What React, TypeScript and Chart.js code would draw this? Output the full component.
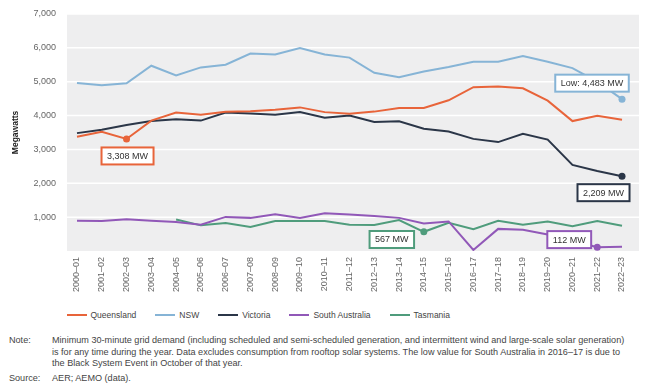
import React, { useEffect, useRef } from "react";
import { Chart, registerables } from "chart.js";

Chart.register(...registerables);

const categories = [
  "2000–01", "2001–02", "2002–03", "2003–04", "2004–05", "2005–06", "2006–07", "2007–08",
  "2008–09", "2009–10", "2010–11", "2011–12", "2012–13", "2013–14", "2014–15", "2015–16",
  "2016–17", "2017–18", "2018–19", "2019–20", "2020–21", "2021–22", "2022–23",
];

const queensland = [3370, 3520, 3308, 3850, 4090, 4020, 4110, 4125, 4170, 4240, 4100, 4050, 4115, 4220, 4220, 4450, 4835, 4860, 4805, 4440, 3835, 3990, 3875];
const nsw = [4960, 4890, 4950, 5470, 5180, 5420, 5500, 5830, 5800, 5990, 5800, 5710, 5260, 5130, 5300, 5430, 5590, 5590, 5755, 5590, 5400, 5000, 4483];
const victoria = [3480, 3580, 3720, 3835, 3890, 3850, 4090, 4060, 4020, 4100, 3935, 4000, 3810, 3830, 3610, 3530, 3310, 3215, 3460, 3290, 2540, 2360, 2209];
const southAustralia = [892, 883, 940, 892, 854, 777, 1007, 978, 1084, 978, 1113, 1074, 1036, 978, 815, 873, 30, 653, 624, 490, 310, 112, 125];
const tasmania = [null, null, null, null, 930, 757, 826, 710, 883, 883, 883, 777, 768, 912, 567, 835, 642, 892, 777, 873, 729, 883, 748];

const yTicks = [0, 1000, 2000, 3000, 4000, 5000, 6000, 7000];

const COLORS = {
  qld: "#e8643a",
  nsw: "#86b4d6",
  vic: "#2b3648",
  sa: "#9158b8",
  tas: "#4f9c7c",
};

const FONT = '"Liberation Sans", Arial, Helvetica, sans-serif';

// annotation: dataset index, point index, text, offset of box centre from point
const annotations = [
  { ds: 0, idx: 2, text: "3,308 MW", dx: 1, dy: 17 },
  { ds: 1, idx: 22, text: "Low: 4,483 MW", dx: -30, dy: -16 },
  { ds: 2, idx: 22, text: "2,209 MW", dx: -18.5, dy: 16.5 },
  { ds: 4, idx: 14, text: "567 MW", dx: -32, dy: 7.7 },
  { ds: 3, idx: 21, text: "112 MW", dx: -28, dy: -7.6 },
];

const legendItems = [
  { label: "Queensland", color: COLORS.qld },
  { label: "NSW", color: COLORS.nsw },
  { label: "Victoria", color: COLORS.vic },
  { label: "South Australia", color: COLORS.sa },
  { label: "Tasmania", color: COLORS.tas },
];

function markRadius(markIdx: number) {
  return (ctx: any) => (ctx.dataIndex === markIdx ? 3.5 : 0);
}

const bgPlugin = {
  id: "bgPlugin",
  beforeDraw(chart: any) {
    const { ctx, chartArea } = chart;
    const left = chartArea.left + 2.4;
    const right = chartArea.right + 4.6;
    ctx.save();
    ctx.fillStyle = "#eeeeef";
    ctx.fillRect(left, chartArea.top, right - left, chartArea.bottom - chartArea.top);
    const y = chart.scales.y;
    ctx.strokeStyle = "#ffffff";
    ctx.lineWidth = 1.5;
    y.ticks.forEach((t: any) => {
      if (t.value === 0) return;
      const py = y.getPixelForValue(t.value);
      ctx.beginPath();
      ctx.moveTo(left, py);
      ctx.lineTo(right, py);
      ctx.stroke();
    });
    ctx.restore();
  },
};

const annotationPlugin = {
  id: "annotationPlugin",
  afterDatasetsDraw(chart: any) {
    const { ctx } = chart;
    ctx.save();
    ctx.font = `9px ${FONT}`;
    ctx.textAlign = "center";
    ctx.textBaseline = "middle";
    annotations.forEach((a) => {
      const meta = chart.getDatasetMeta(a.ds);
      const pt = meta.data[a.idx];
      if (!pt) return;
      const color = chart.data.datasets[a.ds].borderColor;
      const cx = pt.x + a.dx;
      const cy = pt.y + a.dy;
      const tw = ctx.measureText(a.text).width;
      const w = tw + 11;
      const h = 17;
      ctx.fillStyle = "#ffffff";
      ctx.fillRect(cx - w / 2, cy - h / 2, w, h);
      ctx.strokeStyle = color;
      ctx.lineWidth = 2;
      ctx.strokeRect(cx - w / 2, cy - h / 2, w, h);
      ctx.fillStyle = "#333333";
      ctx.fillText(a.text, cx, cy + 0.5);
    });
    ctx.restore();
  },
};

export default function App() {
  const canvasRef = useRef<HTMLCanvasElement | null>(null);

  useEffect(() => {
    if (!canvasRef.current) return;
    const chart = new Chart(canvasRef.current, {
      type: "line",
      data: {
        labels: categories,
        datasets: [
          { label: "Queensland", data: queensland, borderColor: COLORS.qld, backgroundColor: COLORS.qld, pointBackgroundColor: COLORS.qld, pointBorderWidth: 0, borderWidth: 2, pointRadius: markRadius(2), pointHoverRadius: 0, tension: 0 },
          { label: "NSW", data: nsw, borderColor: COLORS.nsw, backgroundColor: COLORS.nsw, pointBackgroundColor: COLORS.nsw, pointBorderWidth: 0, borderWidth: 2, pointRadius: markRadius(22), pointHoverRadius: 0, tension: 0 },
          { label: "Victoria", data: victoria, borderColor: COLORS.vic, backgroundColor: COLORS.vic, pointBackgroundColor: COLORS.vic, pointBorderWidth: 0, borderWidth: 2, pointRadius: markRadius(22), pointHoverRadius: 0, tension: 0 },
          { label: "South Australia", data: southAustralia, borderColor: COLORS.sa, backgroundColor: COLORS.sa, pointBackgroundColor: COLORS.sa, pointBorderWidth: 0, borderWidth: 2, pointRadius: markRadius(21), pointHoverRadius: 0, tension: 0 },
          { label: "Tasmania", data: tasmania as any, borderColor: COLORS.tas, backgroundColor: COLORS.tas, pointBackgroundColor: COLORS.tas, pointBorderWidth: 0, borderWidth: 2, pointRadius: markRadius(14), pointHoverRadius: 0, tension: 0 },
        ],
      },
      options: {
        animation: false,
        responsive: false,
        devicePixelRatio: 1,
        events: [],
        layout: { padding: { top: 8.7, right: 14.6, left: 0, bottom: 0 } },
        plugins: {
          legend: { display: false },
          tooltip: { enabled: false },
        },
        scales: {
          x: {
            type: "category",
            offset: true,
            grid: { display: false, drawTicks: false },
            border: { display: false },
            ticks: {
              autoSkip: false,
              maxRotation: 90,
              minRotation: 90,
              padding: 6,
              color: "#666666",
              font: { family: FONT, size: 9 },
            },
            afterFit: (s: any) => {
              s.height = 49;
            },
          },
          y: {
            min: 0,
            max: 7000,
            afterBuildTicks: (s: any) => {
              s.ticks = yTicks.map((v) => ({ value: v }));
            },
            grid: { display: false, drawTicks: false },
            border: { display: false },
            ticks: {
              padding: 8.5,
              color: "#666666",
              font: { family: FONT, size: 9 },
              callback: (v: any) => (Number(v) === 0 ? "" : Number(v).toLocaleString("en-US")),
            },
            title: {
              display: true,
              text: "Megawatts",
              color: "#222222",
              font: { family: FONT, size: 8.5, weight: "bold" },
              padding: { top: 11, bottom: 0 },
            },
            afterFit: (s: any) => {
              s.width = 64.6;
            },
          },
        },
      },
      plugins: [bgPlugin, annotationPlugin],
    });
    return () => chart.destroy();
  }, []);

  const textStyle: React.CSSProperties = {
    fontFamily: FONT,
    fontSize: "9.1px",
    color: "#444444",
    whiteSpace: "nowrap",
    lineHeight: "11.7px",
  };

  return (
    <div style={{ position: "absolute", left: 0, top: 0, width: 649, height: 390, background: "#ffffff", overflow: "hidden" }}>
      <canvas ref={canvasRef} width={649} height={300} style={{ position: "absolute", left: 0, top: 0, width: 649, height: 300 }} />
      <div style={{ position: "absolute", left: 66.5, top: 309, height: 12, display: "flex", alignItems: "center", fontFamily: FONT, fontSize: "8.5px", color: "#444444", whiteSpace: "nowrap" }}>
        {legendItems.map((it) => (
          <div key={it.label} style={{ display: "flex", alignItems: "center", marginRight: 19 }}>
            <span style={{ display: "inline-block", width: 20, height: 2.5, background: it.color, marginRight: 4 }} />
            <span>{it.label}</span>
          </div>
        ))}
      </div>
      <div style={{ ...textStyle, position: "absolute", left: 9, top: 335 }}>Note:</div>
      <div style={{ ...textStyle, position: "absolute", left: 52, top: 335 }}>
        <div>Minimum 30-minute grid demand (including scheduled and semi-scheduled generation, and intermittent wind and large-scale solar generation)</div>
        <div>is for any time during the year. Data excludes consumption from rooftop solar systems. The low value for South Australia in 2016–17 is due to</div>
        <div>the Black System Event in October of that year.</div>
      </div>
      <div style={{ ...textStyle, position: "absolute", left: 9, top: 372.5 }}>Source:</div>
      <div style={{ ...textStyle, position: "absolute", left: 52, top: 372.5 }}>AER; AEMO (data).</div>
    </div>
  );
}
